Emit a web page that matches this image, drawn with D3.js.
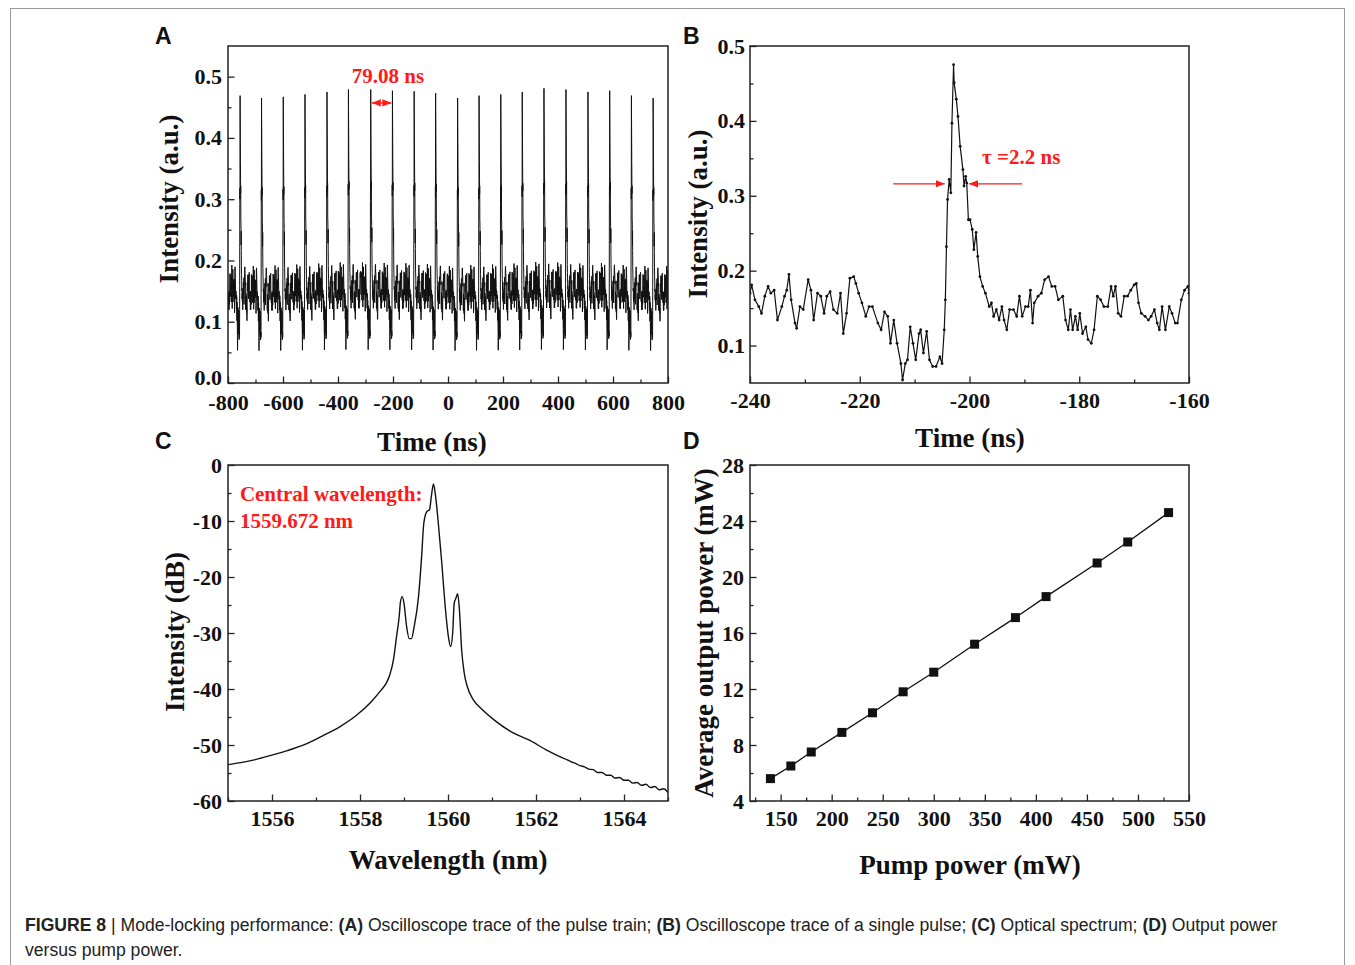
<!DOCTYPE html>
<html><head><meta charset="utf-8">
<script src="https://cdn.jsdelivr.net/npm/d3@7"></script>
<style>body{margin:0;background:#fff} svg{display:block}</style>
</head><body><svg id="fig" width="1355" height="965"></svg>
<script>
// ---------- DATA ----------
// Panel A: pulse train (pulse times, peak heights), period annotation
const pulseTimesA = [-756,-678,-599,-520,-440,-362,-281,-202,-123,-45,35,113,192,270,349,429,509,588,667,746];
const pulsePeaksA = [0.469,0.465,0.467,0.471,0.475,0.479,0.479,0.477,0.476,0.473,0.465,0.469,0.471,0.475,0.481,0.479,0.475,0.477,0.469,0.465];
const periodA = 79.08;
// Panel B: single-pulse oscilloscope samples
const bTime = [-240.0,-239.7,-239.1,-238.4,-237.9,-237.3,-236.7,-236.2,-235.6,-235.0,
 -234.2,-233.7,-233.3,-232.9,-232.5,-231.8,-231.5,-230.9,-230.3,-229.4,
 -228.9,-228.4,-227.7,-227.1,-226.5,-226.0,-225.4,-224.8,-224.1,-223.5,
 -223.0,-222.4,-221.8,-221.1,-220.7,-220.2,-219.6,-218.9,-218.3,-217.7,
 -216.7,-216.1,-215.5,-214.9,-214.4,-213.8,-213.2,-212.5,-212.2,-211.7,
 -211.3,-210.8,-210.3,-209.8,-209.2,-208.9,-208.4,-207.8,-207.3,-206.7,
 -206.1,-205.4,-205.0,-204.6,-204.4,-204.2,-204.0,-203.7,-203.4,-203.2,
 -202.9,-202.8,-202.4,-202.1,-201.7,-201.2,-201.0,-200.7,-200.5,-200.2,
 -199.9,-199.5,-199.2,-198.8,-198.5,-198.1,-197.6,-197.1,-196.4,-196.0,
 -195.6,-195.1,-194.6,-194.1,-193.7,-193.2,-192.7,-192.0,-191.4,-190.9,
 -190.4,-189.8,-189.3,-188.9,-188.5,-188.2,-187.5,-186.9,-186.3,-185.6,
 -185.0,-184.4,-183.8,-183.0,-182.5,-182.0,-181.6,-181.2,-180.7,-180.3,
 -179.9,-179.4,-178.8,-178.4,-177.8,-177.3,-176.7,-176.1,-175.5,-174.8,
 -174.2,-173.8,-173.4,-172.9,-172.4,-171.8,-171.2,-170.6,-170.0,-169.6,
 -169.2,-168.7,-168.0,-167.4,-166.9,-166.3,-165.8,-165.4,-164.9,-164.3,
 -163.6,-163.1,-162.5,-162.1,-161.4,-160.8,-160.2,-160.0];
const bValue = [0.170,0.181,0.161,0.152,0.143,0.166,0.179,0.170,0.174,0.134,
 0.152,0.166,0.174,0.195,0.161,0.130,0.123,0.152,0.148,0.188,
 0.174,0.134,0.170,0.166,0.143,0.166,0.172,0.148,0.143,0.170,
 0.116,0.143,0.190,0.192,0.183,0.170,0.157,0.139,0.152,0.152,
 0.130,0.121,0.145,0.139,0.103,0.134,0.103,0.076,0.054,0.076,
 0.081,0.125,0.103,0.081,0.116,0.121,0.090,0.119,0.081,0.072,
 0.072,0.085,0.076,0.121,0.161,0.232,0.295,0.322,0.304,0.397,
 0.475,0.451,0.429,0.406,0.366,0.335,0.313,0.326,0.317,0.268,
 0.268,0.255,0.228,0.251,0.219,0.192,0.179,0.170,0.152,0.157,
 0.139,0.148,0.134,0.152,0.134,0.121,0.148,0.148,0.139,0.166,
 0.139,0.152,0.152,0.174,0.130,0.157,0.166,0.170,0.188,0.192,
 0.179,0.179,0.161,0.166,0.134,0.121,0.148,0.121,0.139,0.121,
 0.143,0.116,0.125,0.108,0.103,0.121,0.166,0.161,0.152,0.152,
 0.179,0.166,0.179,0.143,0.139,0.166,0.166,0.174,0.181,0.183,
 0.157,0.143,0.139,0.134,0.139,0.148,0.130,0.121,0.152,0.121,
 0.152,0.143,0.130,0.130,0.161,0.174,0.179,0.170];
// Panel C: optical spectrum
const cWave = [1555.0,1555.25,1555.57,1556.0,1556.35,1556.75,1557.14,1557.53,1557.92,1558.24,
 1558.47,1558.6,1558.68,1558.76,1558.83,1558.89,1558.92,1558.96,1559.0,1559.06,
 1559.12,1559.17,1559.23,1559.33,1559.4,1559.45,1559.52,1559.58,1559.62,1559.67,
 1559.72,1559.78,1559.86,1559.93,1560.01,1560.06,1560.11,1560.14,1560.18,1560.22,
 1560.26,1560.31,1560.37,1560.44,1560.58,1560.77,1561.06,1561.45,1561.84,1562.24,
 1562.63,1562.7,1562.8,1562.9,1563.0,1563.1,1563.2,1563.3,1563.4,1563.5,
 1563.6,1563.7,1563.8,1563.9,1564.0,1564.1,1564.2,1564.3,1564.4,1564.5,
 1564.6,1564.7,1564.8,1564.9,1565.0];
const cDb = [-53.5,-53.2,-52.7,-51.8,-51.0,-49.9,-48.4,-46.8,-44.7,-42.4,
 -40.3,-38.9,-37.4,-34.8,-30.7,-27.1,-24.4,-23.5,-24.7,-28.9,
 -31.0,-31.0,-28.9,-23.5,-16.4,-10.4,-8.3,-8.0,-5.7,-3.4,
 -5.7,-10.4,-17.6,-24.7,-30.7,-32.4,-29.5,-24.7,-23.8,-23.0,
 -25.9,-33.0,-37.2,-39.6,-42.0,-43.6,-45.6,-47.7,-49.1,-50.9,
 -52.4,-52.6,-53.0,-53.3,-53.7,-53.9,-54.3,-54.4,-54.9,-54.9,
 -55.4,-55.4,-55.9,-55.8,-56.3,-56.3,-56.8,-56.7,-57.2,-57.0,
 -57.6,-57.4,-58.0,-57.8,-58.5];
// Panel D: output vs pump power
const pumpPower = [140,160,180,210,240,270,300,340,380,410,460,490,530];
const outputPower = [5.6,6.5,7.5,8.9,10.3,11.8,13.2,15.2,17.1,18.6,21.0,22.5,24.6];

// ---------- DRAWING ----------
const svg = d3.select("#fig");
const SERIF = "'Liberation Serif','Times New Roman',serif";
const SANS = "'Liberation Sans',Arial,sans-serif";
const RED = "#ff1a1a";

svg.append("rect").attr("x",10.5).attr("y",8.5).attr("width",1334).attr("height",1000)
  .attr("fill","none").attr("stroke","#9a9a9a").attr("stroke-width",1);

const defs = svg.append("defs");
defs.append("marker").attr("id","arr").attr("viewBox","0 0 10 10").attr("refX",10).attr("refY",5)
  .attr("markerWidth",7).attr("markerHeight",7).attr("orient","auto-start-reverse")
  .append("path").attr("d","M0,1 L10,5 L0,9 Z").attr("fill",RED);

function panel(o){
  const x = d3.scaleLinear().domain(o.xd).range([o.l,o.r]);
  const y = d3.scaleLinear().domain(o.yd).range([o.b,o.t]);
  const g = svg.append("g");
  const id = "clip"+o.name;
  defs.append("clipPath").attr("id",id).append("rect")
    .attr("x",o.l).attr("y",o.t).attr("width",o.r-o.l).attr("height",o.b-o.t);
  const plot = g.append("g").attr("clip-path",`url(#${id})`);
  g.append("g").attr("transform",`translate(0,${o.b})`)
    .call(d3.axisBottom(x).tickValues(o.xMinor).tickSize(-3.5).tickFormat(""))
    .call(s=>s.select(".domain").remove());
  g.append("g").attr("transform",`translate(${o.l},0)`)
    .call(d3.axisLeft(y).tickValues(o.yMinor).tickSize(-3.5).tickFormat(""))
    .call(s=>s.select(".domain").remove());
  const ax = g.append("g").attr("transform",`translate(0,${o.b})`)
    .call(d3.axisBottom(x).tickValues(o.xMajor).tickSize(-6.5).tickPadding(o.xpad||9).tickFormat(o.xf));
  ax.select(".domain").remove();
  ax.selectAll("text").attr("font-family",SERIF).attr("font-weight","bold").attr("font-size",22).attr("fill","#111");
  const ay = g.append("g").attr("transform",`translate(${o.l},0)`)
    .call(d3.axisLeft(y).tickValues(o.yMajor).tickSize(-6.5).tickPadding(o.ypad||6).tickFormat(o.yf));
  ay.select(".domain").remove();
  ay.selectAll("text").attr("font-family",SERIF).attr("font-weight","bold").attr("font-size",22).attr("fill","#111");
  g.selectAll(".tick line").attr("stroke","#222").attr("stroke-width",1.3);
  g.append("rect").attr("x",o.l).attr("y",o.t).attr("width",o.r-o.l).attr("height",o.b-o.t)
    .attr("fill","none").attr("stroke","#222").attr("stroke-width",1.5);
  g.append("text").attr("x",o.xtx).attr("y",o.xty).attr("text-anchor","middle")
    .attr("font-family",SERIF).attr("font-weight","bold").attr("font-size",27).attr("fill","#111").text(o.xt);
  g.append("text").attr("transform",`translate(${o.ytx},${o.yty}) rotate(-90)`).attr("text-anchor","middle")
    .attr("font-family",SERIF).attr("font-weight","bold").attr("font-size",27).attr("fill","#111").text(o.yt);
  g.append("text").attr("x",o.lx).attr("y",o.ly).attr("font-family",SANS).attr("font-weight","bold")
    .attr("font-size",23).attr("fill","#111").text(o.name);
  return {x,y,g,plot,ay,ax};
}
const numFmt = d => String(d);
const fix1 = d => d.toFixed(1);

// ----- Panel A -----
const A = panel({name:"A", l:228,r:668,t:46,b:383, xd:[-800,800], yd:[0,0.55],
  xMajor:d3.range(-800,801,200), xMinor:d3.range(-700,800,200),
  yMajor:[0,0.1,0.2,0.3,0.4,0.5], yMinor:[0.05,0.15,0.25,0.35,0.45],
  xf:numFmt, yf:fix1, xpad:11, xt:"Time (ns)", xtx:432, xty:451, yt:"Intensity (a.u.)", ytx:178, yty:199,
  lx:155, ly:44});
// lift the "0.0" label slightly so it does not collide with "-800"
A.ay.selectAll(".tick text").filter(d=>d===0).attr("dy","0.05em");
{
  const pk = d3.maxIndex(bValue), tPk = bTime[pk], vPk = bValue[pk];
  const startOff = bTime[0]-tPk;
  const last = pulseTimesA.length-1;
  const pulses = [{t:pulseTimesA[0]-periodA,p:pulsePeaksA[0]}]
    .concat(pulseTimesA.map((t,i)=>({t,p:pulsePeaksA[i]})))
    .concat([{t:pulseTimesA[last]+periodA,p:pulsePeaksA[last]}]);
  const trace = [];
  pulses.forEach((P,k)=>{
    const nextStart = k<pulses.length-1 ? pulses[k+1].t - P.t + startOff : Infinity;
    bTime.forEach((tb,i)=>{
      const off = tb - tPk;
      if (off >= startOff && off < nextStart) trace.push([P.t+off, bValue[i]*P.p/vPk]);
    });
  });
  A.plot.append("path").datum(trace)
    .attr("d",d3.line().x(d=>A.x(d[0])).y(d=>A.y(d[1])))
    .attr("fill","none").attr("stroke","#111").attr("stroke-width",1);
  A.g.append("line").attr("x1",A.x(pulseTimesA[6])+1).attr("x2",A.x(pulseTimesA[7])-1)
    .attr("y1",A.y(0.457)).attr("y2",A.y(0.457)).attr("stroke",RED).attr("stroke-width",1.3)
    .attr("marker-start","url(#arr)").attr("marker-end","url(#arr)");
  A.g.append("text").attr("x",A.x(-218)).attr("y",A.y(0.49)).attr("text-anchor","middle")
    .attr("font-family",SERIF).attr("font-weight","bold").attr("font-size",21).attr("fill",RED)
    .text(periodA.toFixed(2)+" ns");
}

// ----- Panel B -----
const B = panel({name:"B", l:750,r:1189,t:46,b:383, xd:[-240,-160], yd:[0.05,0.5],
  xMajor:d3.range(-240,-159,20), xMinor:d3.range(-230,-160,20),
  yMajor:[0.1,0.2,0.3,0.4,0.5], yMinor:[0.15,0.25,0.35,0.45],
  xf:numFmt, yf:fix1, ypad:5, xt:"Time (ns)", xtx:970, xty:447, yt:"Intensity (a.u.)", ytx:707, yty:214,
  lx:683, ly:44});
{
  const pts = bTime.map((t,i)=>[t,bValue[i]]);
  B.plot.append("path").datum(pts)
    .attr("d",d3.line().x(d=>B.x(d[0])).y(d=>B.y(d[1])))
    .attr("fill","none").attr("stroke","#111").attr("stroke-width",1.2);
  B.plot.selectAll("circle").data(pts).join("circle")
    .attr("cx",d=>B.x(d[0])).attr("cy",d=>B.y(d[1])).attr("r",1.4).attr("fill","#111");
  const yA = 0.316;
  B.g.append("line").attr("x1",B.x(-213.9)).attr("x2",B.x(-204.5)).attr("y1",B.y(yA)).attr("y2",B.y(yA))
    .attr("stroke",RED).attr("stroke-width",1.3).attr("marker-end","url(#arr)");
  B.g.append("line").attr("x1",B.x(-190.4)).attr("x2",B.x(-200.1)).attr("y1",B.y(yA)).attr("y2",B.y(yA))
    .attr("stroke",RED).attr("stroke-width",1.3).attr("marker-end","url(#arr)");
  B.g.append("text").attr("x",B.x(-197.7)).attr("y",B.y(0.343))
    .attr("font-family",SERIF).attr("font-weight","bold").attr("font-size",21).attr("fill",RED)
    .text("τ =2.2 ns");
}

// ----- Panel C -----
const C = panel({name:"C", l:228,r:668,t:465,b:801, xd:[1555,1565], yd:[-60,0],
  xMajor:d3.range(1556,1565,2), xMinor:d3.range(1555,1566,2),
  yMajor:d3.range(-60,1,10), yMinor:d3.range(-55,0,10),
  xf:numFmt, yf:numFmt, xt:"Wavelength (nm)", xtx:448, xty:869, yt:"Intensity (dB)", ytx:184, yty:632,
  lx:155, ly:449});
{
  const pts = cWave.map((w,i)=>[w,cDb[i]]);
  C.plot.append("path").datum(pts)
    .attr("d",d3.line().curve(d3.curveMonotoneX).x(d=>C.x(d[0])).y(d=>C.y(d[1])))
    .attr("fill","none").attr("stroke","#111").attr("stroke-width",1.4);
  const tx = C.g.append("text").attr("font-family",SERIF).attr("font-weight","bold").attr("font-size",21).attr("fill",RED);
  tx.append("tspan").attr("x",C.x(1555.27)).attr("y",C.y(-6.5)).text("Central wavelength:");
  tx.append("tspan").attr("x",C.x(1555.27)).attr("y",C.y(-11.2)).text("1559.672 nm");
}

// ----- Panel D -----
const D = panel({name:"D", l:750,r:1189,t:465,b:801, xd:[120,550], yd:[4,28],
  xMajor:d3.range(150,551,50), xMinor:d3.range(125,551,50),
  yMajor:d3.range(4,29,4), yMinor:d3.range(6,28,4),
  xf:numFmt, yf:numFmt, xt:"Pump power (mW)", xtx:970, xty:874, yt:"Average output power (mW)", ytx:713, yty:633,
  lx:683, ly:449});
{
  const pts = pumpPower.map((p,i)=>[p,outputPower[i]]);
  D.plot.append("path").datum(pts)
    .attr("d",d3.line().x(d=>D.x(d[0])).y(d=>D.y(d[1])))
    .attr("fill","none").attr("stroke","#111").attr("stroke-width",1.3);
  D.plot.selectAll("rect.pt").data(pts).join("rect").attr("class","pt")
    .attr("x",d=>D.x(d[0])-4.5).attr("y",d=>D.y(d[1])-4.5).attr("width",9).attr("height",9).attr("fill","#111");
}

// ----- Caption -----
const cap = svg.append("g").attr("font-family",SANS).attr("font-size",17.6).attr("fill","#222");
const l1 = cap.append("text").attr("x",25).attr("y",931);
[["FIGURE 8 ",true],["| ",false],["Mode-locking performance: ",false],["(A)",true],[" Oscilloscope trace of the pulse train; ",false],
 ["(B)",true],[" Oscilloscope trace of a single pulse; ",false],["(C)",true],[" Optical spectrum; ",false],
 ["(D)",true],[" Output power",false]].forEach(([t,b])=>{
  l1.append("tspan").attr("font-weight",b?"bold":"normal").text(t);
});
cap.append("text").attr("x",25).attr("y",956).text("versus pump power.");
</script>
</body></html>
